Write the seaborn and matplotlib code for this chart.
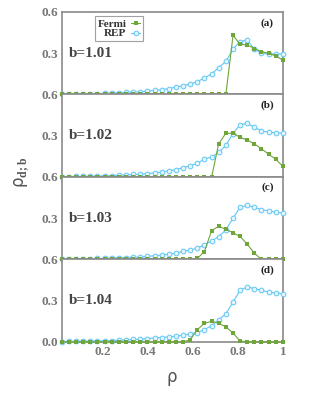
import pandas as pd
import matplotlib
matplotlib.use('Agg')
import matplotlib.pyplot as plt
import seaborn as sns

# density of the control parameter (shared x values)
rho = [0.020, 0.052, 0.083, 0.115, 0.146, 0.178, 0.210, 0.241, 0.273, 0.305, 0.336,
       0.368, 0.399, 0.431, 0.463, 0.494, 0.526, 0.557, 0.589, 0.621, 0.652, 0.684,
       0.715, 0.747, 0.779, 0.810, 0.842, 0.874, 0.905, 0.937, 0.968, 1.000]

b_values = ['b=1.01', 'b=1.02', 'b=1.03', 'b=1.04']
panel_tags = ['(a)', '(b)', '(c)', '(d)']

rep_a = [0.002, 0.003, 0.004, 0.005, 0.006, 0.007, 0.008, 0.010, 0.012, 0.015, 0.018,
         0.020, 0.024, 0.030, 0.035, 0.042, 0.054, 0.063, 0.076, 0.093, 0.120, 0.150,
         0.195, 0.240, 0.330, 0.385, 0.395, 0.330, 0.300, 0.295, 0.295, 0.295]
fermi_a = [0.0] * 24 + [0.430, 0.365, 0.360, 0.334, 0.312, 0.300, 0.280, 0.250]

rep_b = [0.002, 0.003, 0.004, 0.005, 0.006, 0.007, 0.008, 0.010, 0.012, 0.015, 0.018,
         0.020, 0.024, 0.030, 0.036, 0.044, 0.054, 0.067, 0.082, 0.100, 0.130, 0.145,
         0.178, 0.230, 0.316, 0.380, 0.390, 0.360, 0.335, 0.325, 0.322, 0.318]
fermi_b = [0.0] * 22 + [0.240, 0.318, 0.318, 0.288, 0.268, 0.240, 0.205, 0.165, 0.130, 0.077]

rep_c = [0.002, 0.003, 0.004, 0.005, 0.006, 0.007, 0.008, 0.010, 0.012, 0.014, 0.016,
         0.017, 0.022, 0.027, 0.032, 0.039, 0.046, 0.059, 0.068, 0.083, 0.105, 0.135,
         0.165, 0.215, 0.300, 0.380, 0.393, 0.380, 0.360, 0.355, 0.343, 0.338]
fermi_c = [0.0] * 19 + [0.008, 0.057, 0.210, 0.240, 0.220, 0.193, 0.168, 0.110, 0.045,
                        0.0, 0.0, 0.0, 0.0]

rep_d = [0.002, 0.003, 0.004, 0.005, 0.006, 0.007, 0.008, 0.010, 0.012, 0.015, 0.018,
         0.020, 0.024, 0.029, 0.032, 0.037, 0.041, 0.049, 0.059, 0.068, 0.090, 0.118,
         0.160, 0.205, 0.290, 0.375, 0.400, 0.388, 0.375, 0.362, 0.356, 0.350]
fermi_d = [0.0] * 18 + [0.015, 0.090, 0.135, 0.150, 0.135, 0.110, 0.064, 0.007,
                        0.0, 0.0, 0.0, 0.0, 0.0, 0.0]

rep_all = [rep_a, rep_b, rep_c, rep_d]
fermi_all = [fermi_a, fermi_b, fermi_c, fermi_d]

green = '#6fa63a'
blue = '#62c6f2'
gray = '#8a8a8a'

sns.set_theme(style='white')
plt.rcParams['font.family'] = ['Liberation Serif', 'DejaVu Sans']
plt.rcParams['mathtext.fontset'] = 'custom'
plt.rcParams['mathtext.bf'] = 'Liberation Serif:bold'
plt.rcParams['mathtext.rm'] = 'Liberation Serif'

fig, axes = plt.subplots(4, 1, sharex=True, figsize=(3.14, 3.93), dpi=100)
fig.subplots_adjust(left=0.197, right=0.901, top=0.9695, bottom=0.13, hspace=0)

for k, ax in enumerate(axes):
    df = pd.DataFrame({'rho': rho, 'Fermi': fermi_all[k], 'REP': rep_all[k]})
    sns.lineplot(data=df, x='rho', y='Fermi', ax=ax, color=green, lw=0.8,
                 marker='s', markersize=2.9, markeredgewidth=0, label='Fermi',
                 clip_on=False, zorder=4)
    sns.lineplot(data=df, x='rho', y='REP', ax=ax, color=blue, lw=0.8,
                 marker='o', markersize=3.4, markerfacecolor='#e3f5fd',
                 markeredgecolor=blue, markeredgewidth=0.7, label='REP',
                 clip_on=False, zorder=3)

    ax.set_xlim(0.02, 1.0)
    ax.set_ylim(0, 0.6)
    ax.set_xlabel('')
    ax.set_ylabel('')
    for sp in ax.spines.values():
        sp.set_color(gray)
        sp.set_linewidth(1.2)
    ax.tick_params(direction='in', length=2.5, width=0.8, color=gray,
                   labelsize=9.5, labelcolor='#777777', pad=3)

    if k < 3:
        ax.set_yticks([0.3, 0.6])
        ax.set_yticklabels(['0.3', '0.6'], fontweight='bold')
    else:
        ax.set_yticks([0.0, 0.3, 0.6])
        ax.set_yticklabels(['0.0', '0.3', '0.6'], fontweight='bold')

    ax.text(0.03, 0.5, b_values[k], transform=ax.transAxes, fontsize=11,
            fontweight='bold', color='#444444', va='center', ha='left')
    ax.text(0.93, 0.87, panel_tags[k], transform=ax.transAxes, fontsize=8,
            fontweight='bold', color='#222222', va='center', ha='center')

    if k == 0:
        leg = ax.legend(loc='upper left', bbox_to_anchor=(0.15, 0.95),
                        markerfirst=False, frameon=True, fancybox=False,
                        handlelength=0.8, handletextpad=0.4, borderpad=0.25,
                        labelspacing=0.0, borderaxespad=0,
                        prop={'family': 'Liberation Serif', 'weight': 'bold', 'size': 8})
        leg.get_frame().set_edgecolor(gray)
        leg.get_frame().set_linewidth(0.8)
        for t in leg.get_texts():
            t.set_color('#333333')
    else:
        ax.get_legend().remove()

axes[-1].set_xticks([0.2, 0.4, 0.6, 0.8, 1.0])
axes[-1].set_xticklabels(['0.2', '0.4', '0.6', '0.8', '1'], fontweight='bold')

fig.text(172 / 314, 1 - 377 / 393, 'ρ', fontsize=12, color='#555555',
         family='DejaVu Sans', ha='center', va='center')
fig.text(22 / 314, 1 - 172 / 393, r'ρ$_{\mathbf{d;b}}$', fontsize=12, color='#555555',
         family='DejaVu Sans', ha='center', va='center', rotation=90)

fig.savefig('out.png', dpi=100)
